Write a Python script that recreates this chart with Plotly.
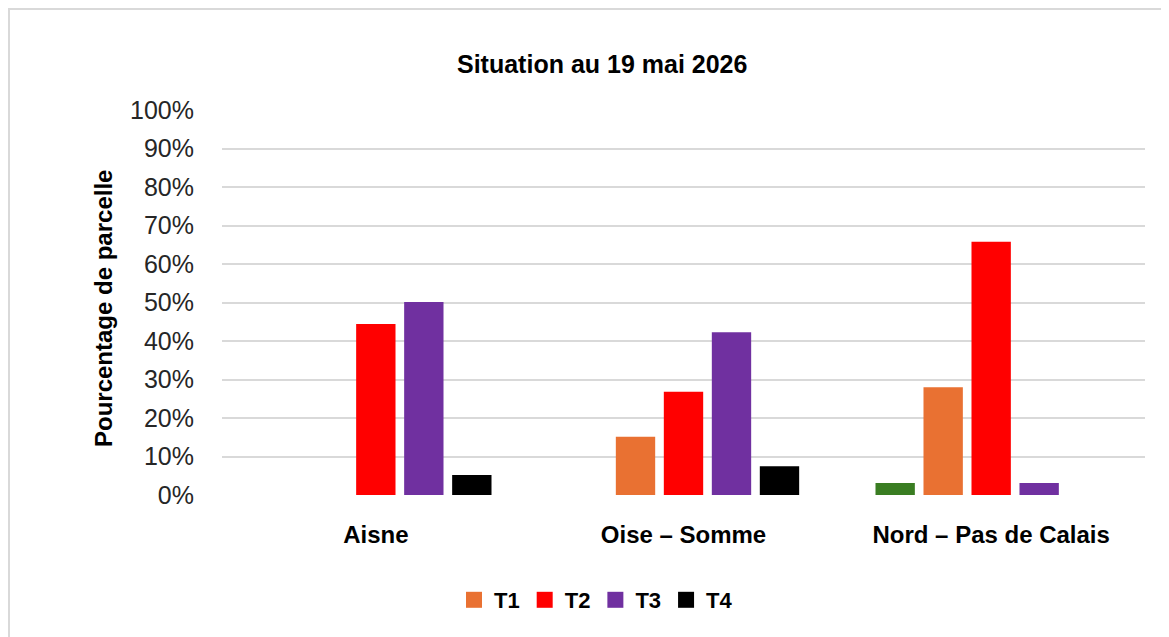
import plotly.graph_objects as go

categories = ["Aisne", "Oise – Somme", "Nord – Pas de Calais"]
series_names = ["T0", "T1", "T2", "T3", "T4"]
t0 = [0.0, 0.0, 0.031]
t1 = [0.0, 0.151, 0.28]
t2 = [0.444, 0.268, 0.658]
t3 = [0.501, 0.423, 0.031]
t4 = [0.052, 0.075, 0.0]
colors = ["#3A7D22", "#E97132", "#FF0000", "#7030A0", "#000000"]
show_legend = [False, True, True, True, True]
y_ticks = [i / 10 for i in range(11)]
y_tick_labels = [f"{i*10}%" for i in range(11)]

font_family = "Liberation Sans, Arial, sans-serif"

W, H = 1161, 629
L, R, T, B = 214, 24, 102, 142
PW, PH = W - L - R, H - T - B


def px_x(x):
    return (x - 8 - L) / PW


def px_y(y):
    return (H - B - (y - 8)) / PH


fig = go.Figure()
for name, vals, col in zip(series_names, [t0, t1, t2, t3, t4], colors):
    fig.add_trace(go.Bar(
        x=categories, y=vals, name=name, marker_color=col,
        marker_line_width=0, showlegend=False,
    ))
# legend proxies (larger square swatches like the original)
for name, col, sl in zip(series_names, colors, show_legend):
    if sl:
        fig.add_trace(go.Scatter(
            x=[None], y=[None], mode="markers", name=f"<b>{name}</b>",
            marker=dict(symbol="square", size=16, color=col),
            showlegend=True,
        ))

fig.update_layout(
    width=W, height=H,
    margin=dict(l=L, r=R, t=T, b=B),
    paper_bgcolor="white", plot_bgcolor="white",
    barmode="group", bargap=0.22, bargroupgap=0.18,
    font=dict(family=font_family, color="#262626"),
    showlegend=True,
    legend=dict(orientation="h", x=px_x(596), xanchor="center", y=px_y(600), yanchor="middle",
                font=dict(size=22, color="#000000", family=font_family),
                itemsizing="trace", itemwidth=30, traceorder="normal",
                tracegroupgap=0),
    shapes=[dict(type="rect", xref="paper", yref="paper",
                 x0=(1 - L) / PW, x1=(PW + R + 10) / PW,
                 y0=-(B + 10) / PH, y1=1 + (T - 1) / PH,
                 line=dict(color="#D9D9D9", width=2), layer="below")],
    annotations=[
        dict(text="<b>Situation au 19 mai 2026</b>", xref="paper", yref="paper",
             x=px_x(602), y=px_y(64),
             xanchor="center", yanchor="middle", showarrow=False,
             font=dict(size=25, color="#000000", family=font_family)),
        dict(text="<b>Pourcentage de parcelle</b>", xref="paper", yref="paper",
             x=px_x(103), y=px_y(308), textangle=-90,
             xanchor="center", yanchor="middle", showarrow=False,
             font=dict(size=24, color="#000000", family=font_family)),
    ],
)
fig.update_yaxes(range=[0, 1.0], tickvals=y_ticks, ticktext=y_tick_labels,
                 showgrid=True, gridcolor="#D9D9D9", gridwidth=2,
                 zeroline=False, showline=False, ticks="", ticklabelstandoff=27,
                 tickfont=dict(size=25, color="#262626"))
fig.update_xaxes(showgrid=False, showline=False, ticks="",
                 tickfont=dict(size=24, color="#000000"),
                 tickprefix="<b>", ticksuffix="</b>", ticklabelstandoff=23)

fig.write_html("out.html")
